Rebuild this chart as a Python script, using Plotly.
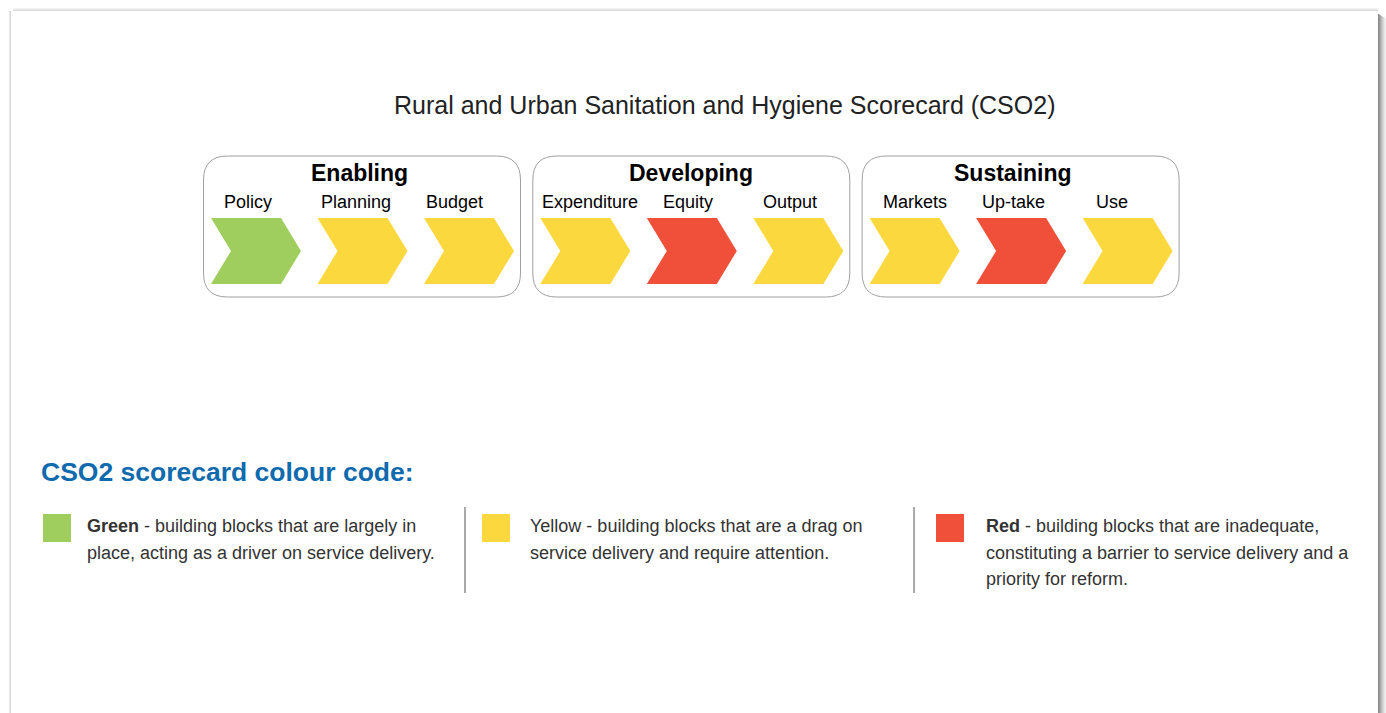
import plotly.graph_objects as go

# ---------------- data ----------------
title_text = "Rural and Urban Sanitation and Hygiene Scorecard (CSO2)"
groups = ["Enabling", "Developing", "Sustaining"]
blocks = ["Policy", "Planning", "Budget", "Expenditure", "Equity", "Output",
          "Markets", "Up-take", "Use"]
block_group = [0, 0, 0, 1, 1, 1, 2, 2, 2]
block_slot = [0, 1, 2, 0, 1, 2, 0, 1, 2]
status = ["Green", "Yellow", "Yellow", "Yellow", "Red", "Yellow",
          "Yellow", "Red", "Yellow"]

legend_title = "CSO2 scorecard colour code:"
legend_keys = ["Green", "Yellow", "Red"]
legend_bold = [True, False, True]
legend_lines = [
    [" - building blocks that are largely in",
     "place, acting as a driver on service delivery."],
    [" - building blocks that are a drag on",
     "service delivery and require attention."],
    [" - building blocks that are inadequate,",
     "constituting a barrier to service delivery and a",
     "priority for reform."],
]

# ---------------- styles / layout ----------------
status_colors = {"Green": "#A0CE5E", "Yellow": "#FCD83F", "Red": "#F0503A"}
FONT = "Liberation Sans, Arial, Helvetica, sans-serif"
W, H = 1386, 713

grp_x0 = 203.5
grp_step = 329.3
grp_w = 317
grp_y0, grp_y1 = 156, 297
group_title_x = [359, 691, 1013]
chev_off = 7.5
chev_step = 106.5
chev_w, chev_h, chev_notch = 90, 66, 20
chev_y0 = 218
label_centers = [247.5, 355.5, 454, 589.7, 688, 789.7, 914.8, 1013, 1112]

fig = go.Figure()
shapes = []
annotations = []

# card shadow + card
CX0, CX1, CY0 = 11, 1378, 11
# top soft shadow
for d, c in [(3, "#f3f3f3"), (2, "#e8e8e8"), (1, "#dcdcdc")]:
    shapes.append(dict(type="rect", xref="x", yref="y", x0=CX0 + 2, x1=CX1, y0=CY0 - d,
                       y1=CY0, fillcolor=c, line=dict(width=0), layer="below"))
# left faint edge
shapes.append(dict(type="rect", xref="x", yref="y", x0=CX0 - 1.5, x1=CX0, y0=CY0,
                   y1=730, fillcolor="#d8d8d8", line=dict(width=0), layer="below"))
# right darker gradient shadow
right_cols = ["#8a8a8a", "#9a9a9a", "#aaaaaa", "#bbbbbb", "#cbcbcb", "#dadada",
              "#e6e6e6", "#f0f0f0"]
for i, c in enumerate(right_cols):
    shapes.append(dict(type="rect", xref="x", yref="y", x0=CX1 + i, x1=CX1 + i + 1,
                       y0=CY0 + 3 + i * 0.6, y1=730, fillcolor=c, line=dict(width=0),
                       layer="below"))
shapes.append(dict(type="rect", xref="x", yref="y", x0=CX0, x1=CX1, y0=CY0, y1=730,
                   fillcolor="white", line=dict(width=0), layer="below"))


def rounded_path(x0, y0, x1, y1, r):
    return (f"M{x0+r},{y0} L{x1-r},{y0} Q{x1},{y0} {x1},{y0+r} "
            f"L{x1},{y1-r} Q{x1},{y1} {x1-r},{y1} L{x0+r},{y1} "
            f"Q{x0},{y1} {x0},{y1-r} L{x0},{y0+r} Q{x0},{y0} {x0+r},{y0} Z")


# group boxes + titles
for g, name in enumerate(groups):
    gx = grp_x0 + g * grp_step
    shapes.append(dict(type="path", xref="x", yref="y",
                       path=rounded_path(gx, grp_y0, gx + grp_w, grp_y1, 24),
                       line=dict(color="#a0a0a0", width=1), fillcolor="rgba(0,0,0,0)"))
    annotations.append(dict(x=group_title_x[g], y=173, xref="x", yref="y",
                            text=f"<b>{name}</b>", showarrow=False,
                            font=dict(family=FONT, size=23, color="#000000"),
                            xanchor="center", yanchor="middle"))

# chevrons + labels
for i, b in enumerate(blocks):
    g, k = block_group[i], block_slot[i]
    gx = grp_x0 + g * grp_step
    x0 = gx + chev_off + k * chev_step
    y0, y1 = chev_y0, chev_y0 + chev_h
    ym = (y0 + y1) / 2
    xs = [x0, x0 + chev_w - chev_notch, x0 + chev_w, x0 + chev_w - chev_notch,
          x0, x0 + chev_notch, x0]
    ys = [y0, y0, ym, y1, y1, ym, y0]
    fig.add_trace(go.Scatter(x=xs, y=ys, fill="toself", mode="lines",
                             line=dict(width=0), fillcolor=status_colors[status[i]],
                             name=b, hoverinfo="text",
                             text=f"{b}: {status[i]}", showlegend=False))
    annotations.append(dict(x=label_centers[i], y=202, xref="x", yref="y", text=b,
                            showarrow=False,
                            font=dict(family=FONT, size=18, color="#000000"),
                            xanchor="center", yanchor="middle"))

# title
annotations.append(dict(x=724.5, y=105, xref="x", yref="y", text=title_text,
                        showarrow=False, font=dict(family=FONT, size=25, color="#222222"),
                        xanchor="center", yanchor="middle"))

# legend heading
annotations.append(dict(x=38.5, y=472, xref="x", yref="y", text=f"<b>{legend_title}</b>",
                        showarrow=False, font=dict(family=FONT, size=26.5, color="#0F6AAE"),
                        xanchor="left", yanchor="middle"))

# legend entries
sq_x = [43, 482, 936]
txt_x = [85, 528, 984]
line_y0, line_dy = 526, 26.5
for j, key in enumerate(legend_keys):
    shapes.append(dict(type="rect", xref="x", yref="y", x0=sq_x[j], x1=sq_x[j] + 28,
                       y0=514, y1=542, fillcolor=status_colors[key], line=dict(width=0)))
    for li, line in enumerate(legend_lines[j]):
        if li == 0:
            head = f"<b>{key}</b>" if legend_bold[j] else key
            txt = head + line
        else:
            txt = line
        annotations.append(dict(x=txt_x[j], y=line_y0 + li * line_dy, xref="x", yref="y",
                                text=txt, showarrow=False,
                                font=dict(family=FONT, size=18, color="#333333"),
                                xanchor="left", yanchor="middle"))

# dividers
for dx in [465, 914]:
    shapes.append(dict(type="line", xref="x", yref="y", x0=dx, x1=dx, y0=507, y1=593,
                       line=dict(color="#555555", width=1)))

fig.update_layout(
    width=W, height=H, margin=dict(l=0, r=0, t=0, b=0),
    paper_bgcolor="white", plot_bgcolor="white",
    xaxis=dict(range=[0, W], visible=False, fixedrange=True),
    yaxis=dict(range=[H, 0], visible=False, fixedrange=True),
    shapes=shapes, annotations=annotations, showlegend=False,
)

fig.write_html("out.html", config={"displayModeBar": False},
               post_script="document.body.style.margin='0';document.body.style.overflow='hidden';")
